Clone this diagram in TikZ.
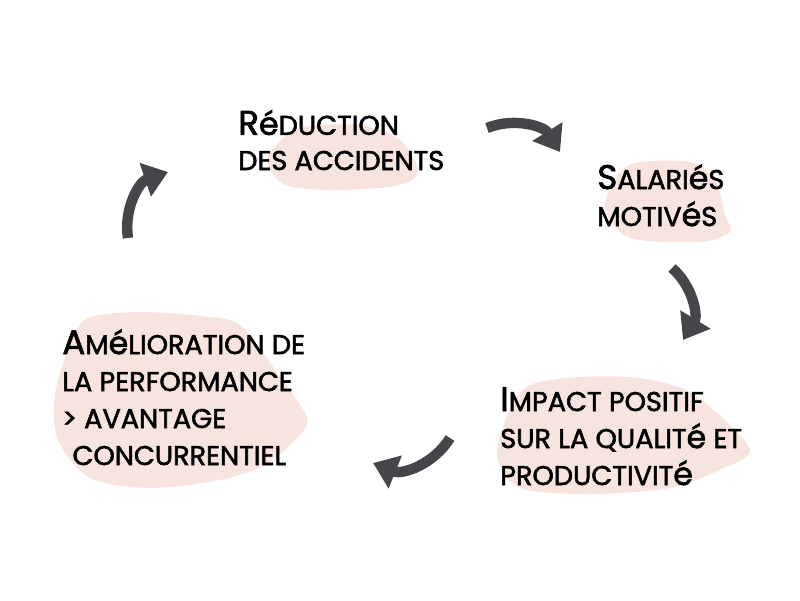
\documentclass[tikz,border=0pt]{standalone}
\usepackage{fontspec}
\setmainfont{Poppins}[FakeBold=2]
\usetikzlibrary{arrows.meta}

\definecolor{blush}{RGB}{248,228,222}
\definecolor{arrowgray}{RGB}{70,69,74}
\newcommand\petit[1]{{\fontsize{19.3}{26}\selectfont #1}}
\newcommand\eacute{{\fontsize{22.5}{26}\selectfont\'e}}

\begin{document}
\begin{tikzpicture}[
    x=0.025cm,
    y=0.025cm,
    blob/.style={
        fill=blush,
        draw=none
    },
    blobtext/.style={
        anchor=base west,
        align=left,
        inner sep=0pt,
        font=\fontsize{24.3}{26.3}\selectfont
    },
    cyclearrow/.style={
        draw=arrowgray,
        line width=0.26cm,
        -{Triangle[length=0.6cm, width=0.85cm]},
        bend left=40
    }
]

\useasboundingbox (0,0) rectangle (800,-600);

% pink blobs behind the texts
\fill[blob] plot[smooth cycle] coordinates {(272,-150) (300,-128) (360,-125) (400,-140) (418,-172) (395,-186) (330,-190) (285,-185) (268,-165)};
\fill[blob] plot[smooth cycle] coordinates {(615,-180) (635,-163) (690,-162) (715,-180) (725,-215) (730,-232) (700,-242) (630,-238) (605,-210)};
\fill[blob] plot[smooth cycle] coordinates {(88,-318) (140,-312) (200,-316) (240,-325) (275,-370) (307,-418) (295,-440) (265,-465) (220,-480) (150,-488) (90,-478) (58,-440) (55,-395) (70,-345)};
\fill[blob] plot[smooth cycle] coordinates {(510,-410) (530,-385) (580,-377) (640,-378) (690,-392) (730,-425) (750,-452) (720,-470) (670,-488) (590,-494) (520,-488) (497,-455)};

% texts, placed by the baseline of their last line
\node[blobtext, font=\fontsize{24.3}{25}\selectfont] (reduction) at (238,-170) {R\eacute\petit{DUCTION}\\\petit{DES ACCIDENTS}};
\node[blobtext] (salaries) at (597,-226) {S\petit{ALARI}\eacute\petit{S}\\\petit{MOTIV}\eacute\petit{S}};
\node[blobtext] (impact) at (500,-485) {I\petit{MPACT POSITIF}\\\petit{SUR LA QUALIT}\eacute\petit{ ET}\\\petit{PRODUCTIVIT}\eacute};
\node[blobtext] (amelioration) at (62,-465) {A\petit{M}\eacute\petit{LIORATION DE}\\\petit{LA PERFORMANCE}\\\petit{> AVANTAGE}\\\hspace{0.3em}\petit{CONCURRENTIEL}};

% arrow ends
\coordinate (a1s) at (487,-128);
\coordinate (a1e) at (560,-152);
\coordinate (a2s) at (672,-268);
\coordinate (a2e) at (683,-340);
\coordinate (a3s) at (450,-438);
\coordinate (a3e) at (373,-463);
\coordinate (a4s) at (128,-238);
\coordinate (a4e) at (168,-172);

\draw[cyclearrow] (a1s) to (a1e);
\draw[cyclearrow] (a2s) to (a2e);
\draw[cyclearrow] (a3s) to (a3e);
\draw[cyclearrow] (a4s) to (a4e);

\end{tikzpicture}
\end{document}
